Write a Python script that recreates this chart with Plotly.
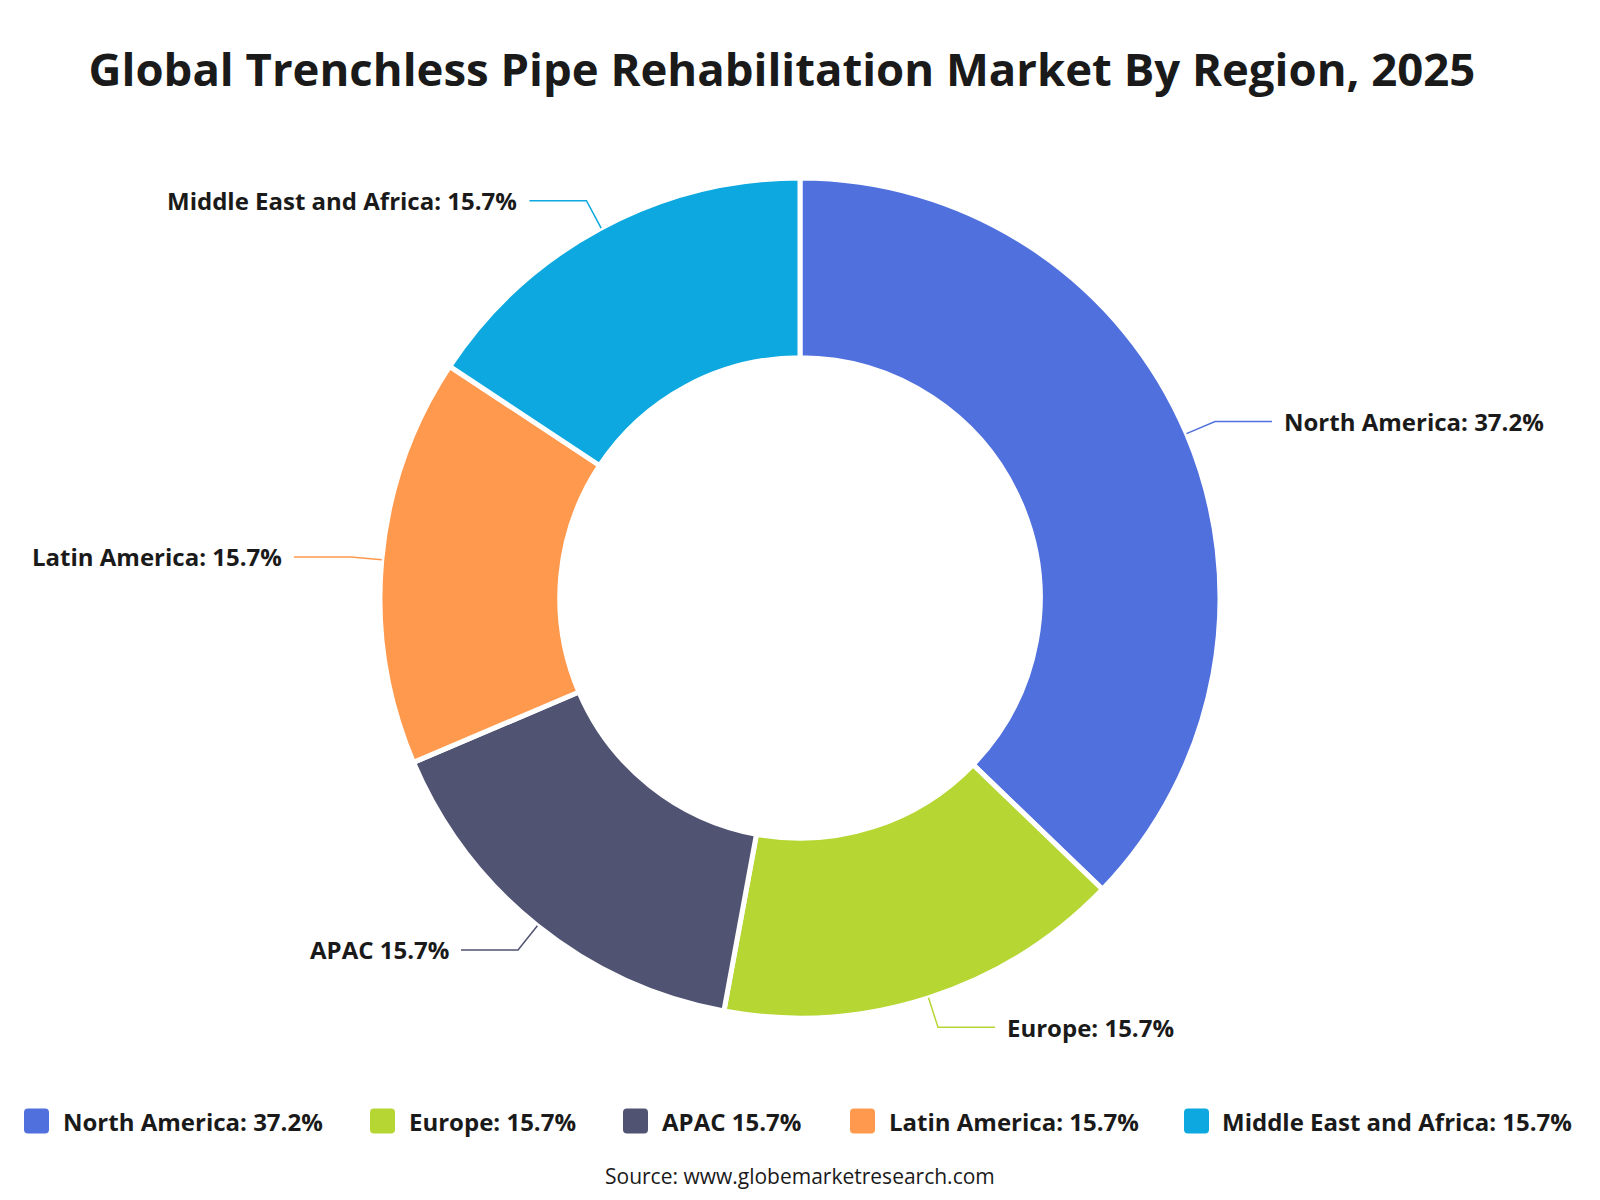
import math
import plotly.graph_objects as go

# ---------------- data ----------------
regions = ["North America", "Europe", "APAC", "Latin America", "Middle East and Africa"]
shares = [37.2, 15.7, 15.7, 15.7, 15.7]
label_texts = ["North America: 37.2%", "Europe: 15.7%", "APAC 15.7%",
               "Latin America: 15.7%", "Middle East and Africa: 15.7%"]
colors = ["#5070DD", "#B6D634", "#505372", "#FF994D", "#0CA8DF"]

TITLE = "Global Trenchless Pipe Rehabilitation Market By Region, 2025"
SOURCE = "Source: www.globemarketresearch.com"

# ---------------- geometry (pixels) ----------------
W, H = 1600, 1200
CX, CY, R = 800, 598, 420
HOLE = 0.572
FONT = "Open Sans"
TXT = "#1a1a1a"


def px(x):
    return x / W


def py(y):
    return 1 - y / H


fig = go.Figure()
fig.add_trace(go.Pie(
    labels=regions,
    values=shares,
    sort=False,
    direction="clockwise",
    rotation=0,
    hole=HOLE,
    marker=dict(colors=colors, line=dict(color="#ffffff", width=5)),
    textinfo="none",
    hoverinfo="label+percent",
    showlegend=False,
    domain=dict(x=[px(CX - R), px(CX + R)], y=[py(CY + R), py(CY - R)]),
))

shapes = []
annotations = []

# leader lines + outside labels computed from slice angles
total = sum(shares)
cum = 0.0
L1, L2, GAP = 31, 57, 10
for name, v, txt, col in zip(regions, shares, label_texts, colors):
    mid = (cum + v / 2) / total * 2 * math.pi
    cum += v
    s, c = math.sin(mid), math.cos(mid)
    x0, y0 = CX + R * s, CY - R * c
    x1, y1 = CX + (R + L1) * s, CY - (R + L1) * c
    side = 1 if s >= 0 else -1
    x2 = x1 + side * L2
    shapes.append(dict(
        type="path", xref="paper", yref="paper",
        path=f"M{px(x0)},{py(y0)} L{px(x1)},{py(y1)} L{px(x2)},{py(y1)}",
        line=dict(color=col, width=1.5),
    ))
    annotations.append(dict(
        x=px(x2 + side * GAP), y=py(y1), xref="paper", yref="paper",
        text=f"<b>{txt}</b>", showarrow=False,
        xanchor="left" if side > 0 else "right", yanchor="middle",
        font=dict(family=FONT, size=24, color=TXT),
    ))

# custom legend (rounded squares + text)
icon_left = [24, 370, 623, 850, 1184]
text_left = [61, 407, 660, 887, 1220]
LEG_Y = 1121
S = 25
RAD = 4
for il, tl, txt, col in zip(icon_left, text_left, label_texts, colors):
    xa, xb = il, il + S
    ya, yb = LEG_Y - S / 2, LEG_Y + S / 2
    p = (f"M{px(xa + RAD)},{py(ya)} L{px(xb - RAD)},{py(ya)} "
         f"Q{px(xb)},{py(ya)} {px(xb)},{py(ya + RAD)} "
         f"L{px(xb)},{py(yb - RAD)} Q{px(xb)},{py(yb)} {px(xb - RAD)},{py(yb)} "
         f"L{px(xa + RAD)},{py(yb)} Q{px(xa)},{py(yb)} {px(xa)},{py(yb - RAD)} "
         f"L{px(xa)},{py(ya + RAD)} Q{px(xa)},{py(ya)} {px(xa + RAD)},{py(ya)} Z")
    shapes.append(dict(type="path", xref="paper", yref="paper", path=p,
                       fillcolor=col, line=dict(width=0)))
    annotations.append(dict(
        x=px(tl), y=py(LEG_Y), xref="paper", yref="paper",
        text=f"<b>{txt}</b>", showarrow=False, xanchor="left", yanchor="middle",
        font=dict(family=FONT, size=24, color=TXT),
    ))

# source
annotations.append(dict(
    x=0.5, y=py(1176), xref="paper", yref="paper", text=SOURCE, showarrow=False,
    xanchor="center", yanchor="middle",
    font=dict(family=FONT, size=21, color=TXT),
))

fig.update_layout(
    width=W, height=H,
    margin=dict(l=0, r=0, t=0, b=0),
    paper_bgcolor="#ffffff", plot_bgcolor="#ffffff",
    title=dict(text=f"<b>{TITLE}</b>", x=px(782), xanchor="center",
               y=py(70), yanchor="middle",
               font=dict(family=FONT, size=45.5, color=TXT)),
    shapes=shapes,
    annotations=annotations,
    showlegend=False,
)

fig.write_html("out.html")
